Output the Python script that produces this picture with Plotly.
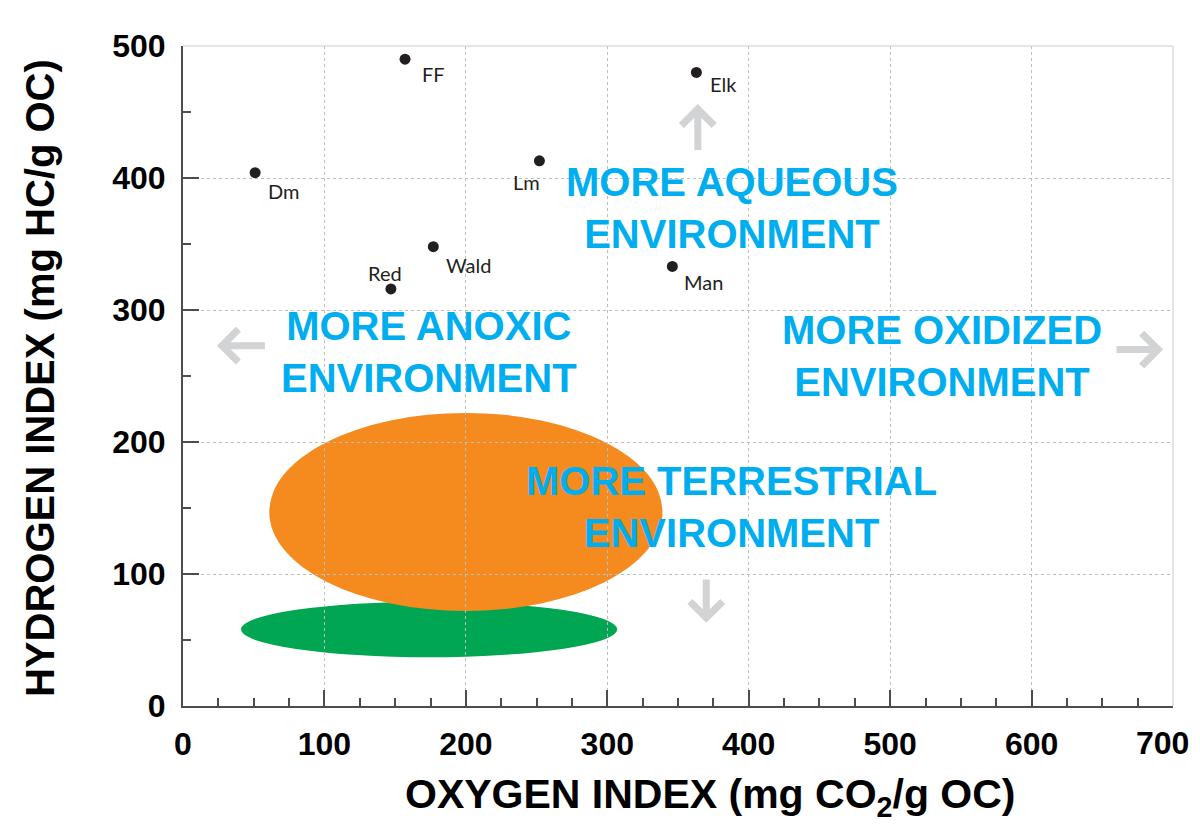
import plotly.graph_objects as go

# ---- data ----
site_names = ["FF", "Elk", "Dm", "Lm", "Wald", "Red", "Man"]
oxygen_index = [157, 363, 51, 252, 177, 147, 346]
hydrogen_index = [490, 480, 404, 413, 348, 316, 333]

# kerogen fields (centre x, centre y, half-width, half-height)
field_names = ["green field", "orange field"]
field_cx = [174, 200]
field_cy = [58, 147]
field_rx = [133, 139]
field_ry = [21, 75]
field_colors = ["#00A651", "#F58A1F"]

x_ticks = [0, 100, 200, 300, 400, 500, 600, 700]
y_ticks = [0, 100, 200, 300, 400, 500]

env_labels = ["MORE AQUEOUS<br>ENVIRONMENT", "MORE ANOXIC<br>ENVIRONMENT",
              "MORE OXIDIZED<br>ENVIRONMENT", "MORE TERRESTRIAL<br>ENVIRONMENT"]
env_x = [388, 174, 537, 388]
env_y = [377, 268, 265, 151]

# arrows: (head x, head y, tail x, tail y)
arrow_head_x = [364, 370, 24, 693]
arrow_head_y = [456, 63, 273, 270]
arrow_tail_x = [364, 370, 59, 659]
arrow_tail_y = [420, 97, 273, 270]

# label offsets in pixels (style)
label_dx = [28, 27, 28, -13, 35, -6, 31]
label_dy = [-15, -12, -18, -21, -18, 16, -16]

tick_font = dict(family="Liberation Sans", size=32, color="black", weight="bold")

fig = go.Figure()

for i in range(len(field_names)):
    fig.add_shape(type="circle", xref="x", yref="y",
                  x0=field_cx[i] - field_rx[i], x1=field_cx[i] + field_rx[i],
                  y0=field_cy[i] - field_ry[i], y1=field_cy[i] + field_ry[i],
                  fillcolor=field_colors[i], line=dict(width=0), layer="below")

fig.add_trace(go.Scatter(x=oxygen_index, y=hydrogen_index, mode="markers",
                         marker=dict(size=11, color="#231F20"),
                         text=site_names, hoverinfo="text", showlegend=False,
                         cliponaxis=False))

annotations = []
for i, n in enumerate(site_names):
    annotations.append(dict(x=oxygen_index[i], y=hydrogen_index[i], text=n,
                            showarrow=False, xshift=label_dx[i], yshift=label_dy[i],
                            font=dict(family="Lato", size=20, color="#231F20")))

for i, t in enumerate(env_labels):
    annotations.append(dict(x=env_x[i], y=env_y[i], text=t, showarrow=False,
                            font=dict(family="Liberation Sans", size=40, color="#00AEEF",
                                      weight="bold")))

for i in range(len(arrow_head_x)):
    annotations.append(dict(x=arrow_head_x[i], y=arrow_head_y[i],
                            ax=arrow_tail_x[i], ay=arrow_tail_y[i],
                            xref="x", yref="y", axref="x", ayref="y",
                            text="", showarrow=True, arrowhead=4, arrowsize=0.9,
                            arrowwidth=7, arrowcolor="#D1D3D4"))

# last x tick label placed as an annotation so it stays inside the page
x_tick_text = [str(v) for v in x_ticks[:-1]] + [""]
annotations.append(dict(x=x_ticks[-1], y=0, xref="x", yref="paper",
                        xanchor="right", yanchor="top", xshift=18, yshift=-17,
                        text=str(x_ticks[-1]), showarrow=False, font=tick_font))

annotations.append(dict(xref="paper", yref="paper", x=0.533, y=-0.138,
                        xanchor="center", yanchor="middle",
                        text="OXYGEN INDEX (mg CO<sub>2</sub>/g OC)", showarrow=False,
                        font=dict(family="Liberation Sans", size=41, color="black", weight="bold")))
annotations.append(dict(xref="paper", yref="paper", x=-0.1444, y=0.497,
                        xanchor="center", yanchor="middle",
                        text="HYDROGEN INDEX (mg HC/g OC)", showarrow=False, textangle=-90,
                        font=dict(family="Liberation Sans", size=40, color="black", weight="bold")))

axis_common = dict(showline=True, linecolor="#4D4D4D", linewidth=2,
                   ticks="inside", ticklen=16, tickwidth=1.5, tickcolor="#4D4D4D",
                   showgrid=True, gridcolor="#BDBDBD", griddash="dot", gridwidth=1,
                   zeroline=False, ticklabeloverflow="allow", automargin=False,
                   tickfont=tick_font)

fig.update_xaxes(range=[0, 700], tickvals=x_ticks, ticktext=x_tick_text,
                 minor=dict(dtick=25, ticks="inside", ticklen=8, tickcolor="#4D4D4D",
                            tickwidth=1.5, showgrid=False),
                 ticklabelstandoff=9, **axis_common)
fig.update_yaxes(range=[0, 500], tickvals=y_ticks,
                 minor=dict(dtick=50, ticks="inside", ticklen=8, tickcolor="#4D4D4D",
                            tickwidth=1.5, showgrid=False),
                 ticklabelstandoff=9, **axis_common)

fig.add_shape(type="line", xref="paper", yref="paper", x0=0, x1=1, y0=1, y1=1,
              line=dict(color="#DDDDDD", width=1.5))
fig.add_shape(type="line", xref="paper", yref="paper", x0=1, x1=1, y0=0, y1=1,
              line=dict(color="#DDDDDD", width=1.5))

fig.update_layout(width=1192, height=814, plot_bgcolor="white", paper_bgcolor="white",
                  margin=dict(l=175, r=27, t=38, b=116), annotations=annotations,
                  showlegend=False)

fig.write_html("out.html")
